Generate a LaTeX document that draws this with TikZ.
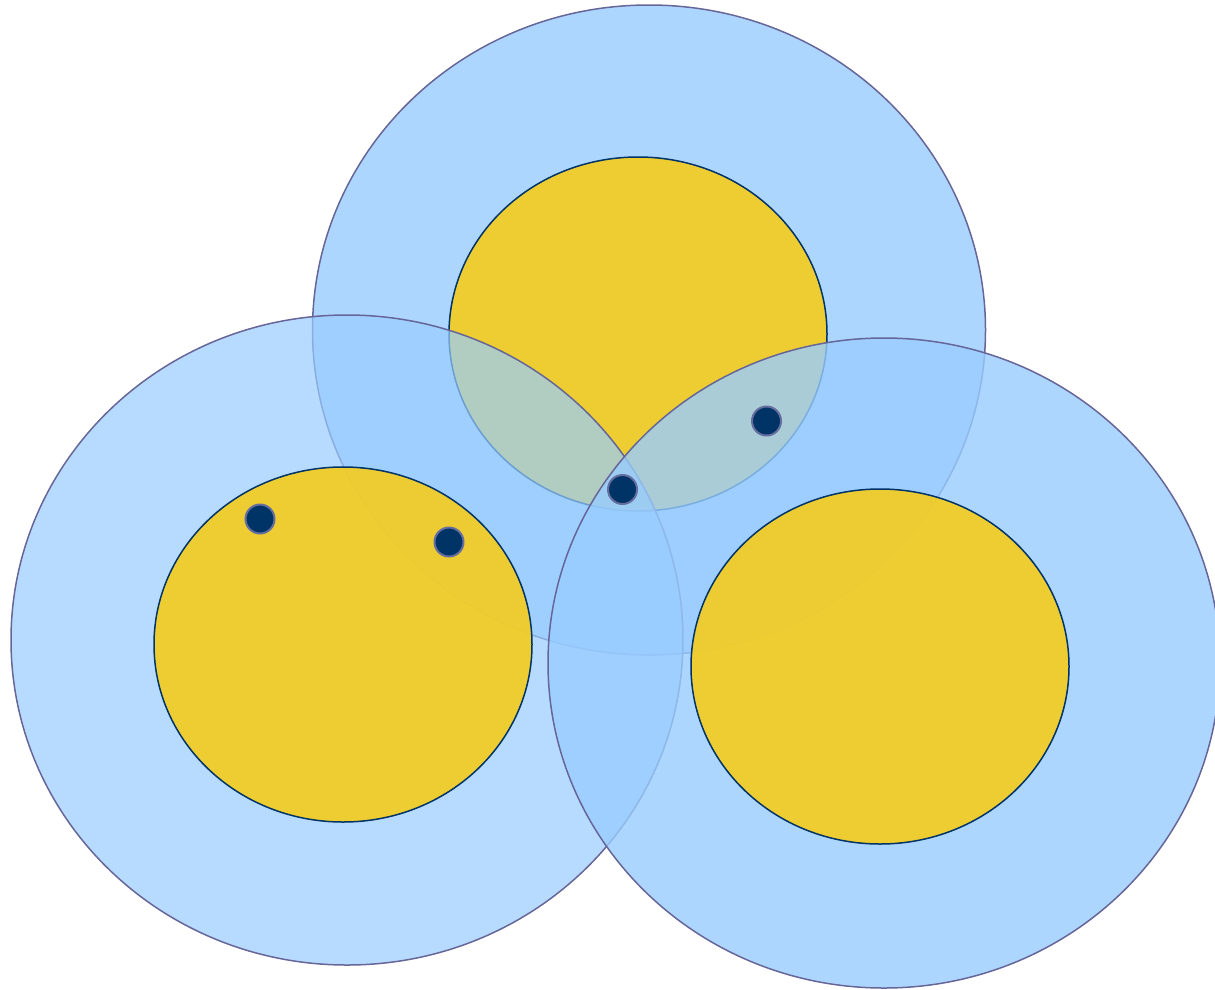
\documentclass[tikz,border=0pt]{standalone}
\definecolor{bigfill}{RGB}{153,204,255}
\definecolor{bigline}{RGB}{102,102,153}
\definecolor{yel}{RGB}{243,205,33}
\definecolor{navy}{RGB}{0,51,102}
\definecolor{dotline}{RGB}{102,110,160}
\tikzset{
  bigA/.style={draw=bigline,line width=1.5pt,fill=bigfill,fill opacity=0.8},
  bigB/.style={draw=bigline,line width=1.5pt,fill=bigfill,fill opacity=0.7},
  core/.style={draw=navy,line width=1.5pt,fill=yel,fill opacity=0.92},
  dot/.style={draw=dotline,line width=2pt,fill=navy}
}
\begin{document}
\begin{tikzpicture}[x=1pt,y=-1pt]
\useasboundingbox (0,0) rectangle (1215,989);
\clip (0,0) rectangle (1215,989);
% top cell
\draw[bigA] (649,330) ellipse [x radius=336.5pt, y radius=325pt];
\draw[core] (638,334) ellipse [x radius=189pt, y radius=177pt];
% left cell
\draw[bigB] (347,640) ellipse [x radius=336pt, y radius=325pt];
\draw[core] (343,644.5) ellipse [x radius=189pt, y radius=177.5pt];
% right cell
\draw[bigA] (884,663) ellipse [x radius=336pt, y radius=325pt];
\draw[core] (880,666.5) ellipse [x radius=189pt, y radius=177.5pt];
% dots
\draw[dot] (260,519) circle [radius=14.5pt];
\draw[dot] (449,542) circle [radius=14.5pt];
\draw[dot] (622.5,489.5) circle [radius=14.5pt];
\draw[dot] (766.5,421) circle [radius=14.5pt];
\end{tikzpicture}
\end{document}
